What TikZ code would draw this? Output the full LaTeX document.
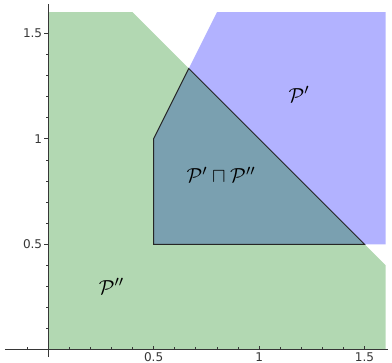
\documentclass[tikz,border=0pt]{standalone}
\usepackage{fontspec}
\newfontfamily\tickfont{DejaVu Sans}
\definecolor{regiongreen}{RGB}{178,216,178}
\definecolor{regionblue}{RGB}{178,178,255}
\definecolor{meetfill}{RGB}{122,160,176}
\definecolor{axisgray}{RGB}{55,55,55}
\tikzset{
  ticklabel/.style={font=\tickfont\fontsize{6.5}{7}\selectfont,text=axisgray,inner sep=0.5pt},
  setlabel/.style={font=\fontsize{11}{13}\selectfont}
}

\begin{document}
\begin{tikzpicture}[x=4cm,y=4cm]
      \useasboundingbox (-0.228,-0.058) rectangle (1.630,1.658);
      % the two polyhedra and their meet
      \fill[regiongreen] (0,0) -- (1.6,0) -- (1.6,0.4) -- (0.4,1.6) -- (0,1.6) -- cycle;
      \fill[regionblue] (0.5,0.5) -- (1.6,0.5) -- (1.6,1.6) -- (0.8,1.6) -- (0.5,1) -- cycle;
      \filldraw[fill=meetfill,draw=black!85,line width=0.5pt]
        (0.5,0.5) -- (1.5,0.5) -- (2/3,4/3) -- (0.5,1) -- cycle;
      % axes
      \draw[axisgray,line width=0.5pt] (-0.205,0) -- (1.612,0);
      \draw[axisgray,line width=0.5pt] (0,-0.035) -- (0,1.638);
      \foreach \t in {-1,...,15}
        \draw[axisgray,line width=0.4pt] (\t/10,0) -- ++(0,0.012);
      \foreach \t in {1,...,15}
        \draw[axisgray,line width=0.4pt] (0,\t/10) -- ++(-0.012,0);
      \foreach \v/\s in {0.5/0.5,1/1,1.5/1.5} {
        \draw[axisgray,line width=0.5pt] (\v,0) -- ++(0,0.02);
        \draw[axisgray,line width=0.5pt] (0,\v) -- ++(-0.02,0);
        \node[ticklabel,anchor=north] at (\v,-0.006) {\s};
        \node[ticklabel,anchor=east] at (-0.022,\v) {\s};
      }
      % labels
      \node[setlabel] (pone) at (1.19,1.21) {$\mathcal{P}'$};
      \node[setlabel] (meet) at (0.82,0.83) {$\mathcal{P}'\sqcap\mathcal{P}''$};
      \node[setlabel] (ptwo) at (0.30,0.30) {$\mathcal{P}''$};
    \end{tikzpicture}
\end{document}
